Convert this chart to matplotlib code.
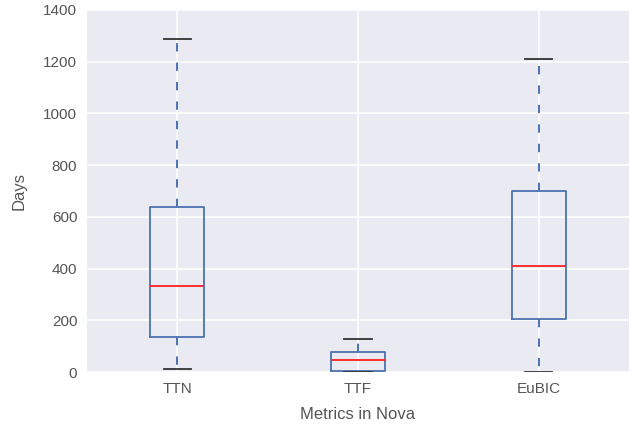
import matplotlib
matplotlib.use("Agg")
import matplotlib.pyplot as plt

# box plot stats (days)
labels = ["TTN", "TTF", "EuBIC"]
whislo = [13, 0, 0]
q1 = [137, 4, 204]
med = [334, 45, 410]
q3 = [637, 77, 700]
whishi = [1289, 126, 1211]

plt.rcParams["font.family"] = ["Liberation Sans", "DejaVu Sans"]
plt.rcParams["lines.scale_dashes"] = False

fig = plt.figure(figsize=(6.32, 4.30), dpi=100)
ax = fig.add_axes([87 / 632, 1 - 372 / 430, 542 / 632, 362 / 430])
ax.set_facecolor("#EAEAF2")
for s in ax.spines.values():
    s.set_visible(False)
ax.grid(True, color="white", linewidth=1.1)
ax.set_axisbelow(True)

stats = []
for i in range(len(labels)):
    stats.append({"label": labels[i], "whislo": whislo[i], "q1": q1[i],
                  "med": med[i], "q3": q3[i], "whishi": whishi[i], "fliers": []})

ax.bxp(stats, widths=0.3, showfliers=False,
       boxprops=dict(color="#4C72B0", linewidth=1.3),
       whiskerprops=dict(color="#4C72B0", linewidth=1.4, linestyle=(0, (6, 8))),
       capprops=dict(color="#333333", linewidth=1.3),
       medianprops=dict(color="#FF1F1F", linewidth=1.3))

ax.set_ylim(0, 1400)
ax.set_xlim(0.5, 3.5)
ax.tick_params(axis="both", length=0, labelsize=11, labelcolor="#555555", pad=7)
ax.set_ylabel("Days", fontsize=12, color="#555555", labelpad=12)
ax.set_xlabel("Metrics in Nova", fontsize=12, color="#555555", labelpad=8)

fig.savefig("out.png", dpi=100)
